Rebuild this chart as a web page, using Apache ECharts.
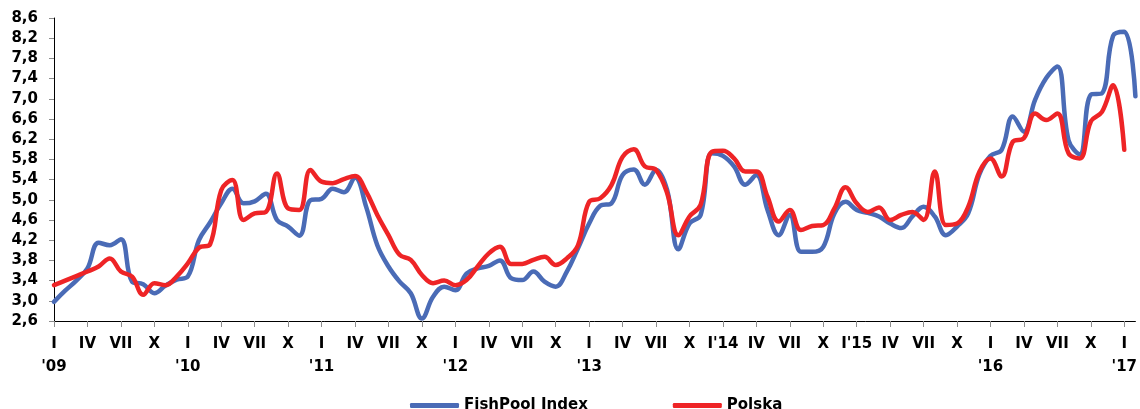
<!DOCTYPE html>
<html>
<head>
<meta charset="utf-8">
<script src="https://cdn.jsdelivr.net/npm/echarts@6/dist/echarts.min.js"></script>
<style>
  html, body { margin: 0; padding: 0; background: #fff; }
  #chart { width: 1140px; height: 409px; }
</style>
</head>
<body>
<div id="chart"></div>
<script>
// Monthly prices, January 2009 onwards
const fishPool = [
  2.98, 3.20, 3.40, 3.64, 4.15, 4.10, 4.22, 3.38, 3.33, 3.15, 3.30, 3.42,
  3.48, 4.20, 4.55, 4.93, 5.22, 4.93, 4.97, 5.12, 4.60, 4.47, 4.29, 4.99,
  5.02, 5.22, 5.15, 5.44, 4.86, 4.10, 3.68, 3.38, 3.15, 2.65, 3.08, 3.28,
  3.21, 3.54, 3.64, 3.69, 3.80, 3.45, 3.41, 3.58, 3.38, 3.28, 3.58, 4.04,
  4.53, 4.88, 4.93, 5.49, 5.60, 5.30, 5.59, 5.19, 4.02, 4.53, 4.70, 5.92,
  5.87, 5.66, 5.30, 5.49, 4.80, 4.30, 4.70, 3.97, 3.97, 4.07, 4.73, 4.96,
  4.80, 4.74, 4.67, 4.53, 4.44, 4.67, 4.86, 4.67, 4.30, 4.47, 4.73, 5.50,
  5.87, 5.99, 6.65, 6.35, 6.98, 7.41, 7.64, 6.18, 5.90, 7.08, 7.11, 8.25,
  8.33, 7.05
];
const polska = [
  3.31, 3.40, 3.49, 3.58, 3.68, 3.84, 3.58, 3.48, 3.12, 3.35, 3.31, 3.48,
  3.74, 4.05, 4.12, 5.19, 5.39, 4.60, 4.73, 4.76, 5.52, 4.83, 4.80, 5.59,
  5.36, 5.33, 5.41, 5.47, 5.16, 4.70, 4.30, 3.91, 3.81, 3.51, 3.35, 3.40,
  3.31, 3.41, 3.68, 3.94, 4.07, 3.73, 3.73, 3.81, 3.87, 3.71, 3.84, 4.10,
  4.96, 5.03, 5.29, 5.85, 6.00, 5.66, 5.59, 5.13, 4.30, 4.67, 4.90, 5.95,
  5.97, 5.82, 5.56, 5.56, 5.06, 4.57, 4.80, 4.40, 4.48, 4.50, 4.83, 5.25,
  4.93, 4.76, 4.85, 4.60, 4.70, 4.76, 4.60, 5.56, 4.50, 4.53, 4.86, 5.55,
  5.82, 5.46, 6.15, 6.22, 6.71, 6.58, 6.71, 5.92, 5.82, 6.55, 6.74, 7.27,
  5.99, null
];
// One label per quarter (every third month)
const quarterLabels = [
  "I\n'09", "IV", "VII", "X", "I\n'10", "IV", "VII", "X",
  "I\n'11", "IV", "VII", "X", "I\n'12", "IV", "VII", "X",
  "I\n'13", "IV", "VII", "X", "I'14", "IV", "VII", "X",
  "I'15", "IV", "VII", "X", "I\n'16", "IV", "VII", "X", "I\n'17"
];
const yMin = 2.6, yMax = 8.6, yStep = 0.4;

const months = [];
for (let i = 0; i < fishPool.length; i++) {
  const y = 2009 + Math.floor(i / 12), m = (i % 12) + 1;
  months.push(y + '-' + (m < 10 ? '0' + m : m));
}

const font = 'DejaVu Sans';
const chart = echarts.init(document.getElementById('chart'), null, { renderer: 'canvas' });
chart.setOption({
  animation: false,
  backgroundColor: '#ffffff',
  grid: { left: 54, right: 0, top: 18, bottom: 88, containLabel: false },
  xAxis: {
    type: 'category',
    data: months,
    boundaryGap: false,
    axisLine: { lineStyle: { color: '#000', width: 1 } },
    axisTick: {
      interval: (idx) => idx % 3 === 0,
      length: 6,
      lineStyle: { color: '#8c8c8c' }
    },
    axisLabel: {
      interval: 0,
      margin: 12,
      color: '#000',
      fontFamily: font,
      fontWeight: 'bold',
      fontSize: 15,
      lineHeight: 23,
      formatter: (v, idx) => (idx % 3 === 0 ? (quarterLabels[idx / 3] || '') : '')
    },
    splitLine: { show: false }
  },
  yAxis: {
    type: 'value',
    min: yMin,
    max: yMax,
    interval: yStep,
    axisLine: { show: true, lineStyle: { color: '#000', width: 1 } },
    axisTick: { show: true, length: 5, lineStyle: { color: '#8c8c8c' } },
    axisLabel: {
      margin: 16,
      color: '#000',
      fontFamily: font,
      fontWeight: 'bold',
      fontSize: 15,
      formatter: (v) => v.toFixed(1).replace('.', ',')
    },
    splitLine: { show: false }
  },
  legend: {
    left: 405,
    top: 393,
    itemWidth: 49,
    itemHeight: 5,
    itemGap: 85,
    icon: 'roundRect',
    textStyle: { color: '#000', fontFamily: font, fontWeight: 'bold', fontSize: 15 },
    data: ['FishPool Index', 'Polska']
  },
  series: [
    {
      name: 'FishPool Index',
      type: 'line',
      data: fishPool,
      smooth: 0.4,
      showSymbol: false,
      symbol: 'none',
      lineStyle: { color: '#4A6BB6', width: 4.5, cap: 'round', join: 'round' },
      itemStyle: { color: '#4A6BB6' }
    },
    {
      name: 'Polska',
      type: 'line',
      data: polska,
      smooth: 0.4,
      showSymbol: false,
      symbol: 'none',
      lineStyle: { color: '#EE2426', width: 4.5, cap: 'round', join: 'round' },
      itemStyle: { color: '#EE2426' }
    }
  ]
});
</script>
</body>
</html>
